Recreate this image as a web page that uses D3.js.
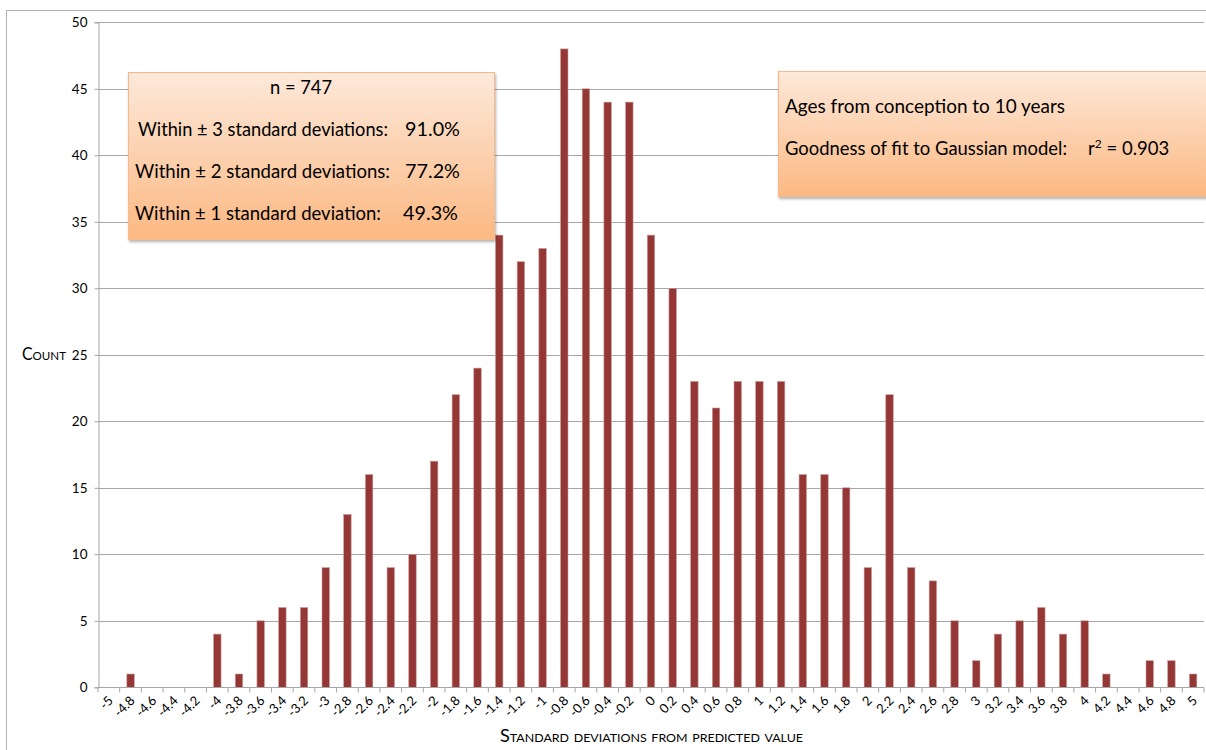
<!DOCTYPE html>
<html><head><meta charset="utf-8">
<script src="https://cdn.jsdelivr.net/npm/d3@7"></script>
<style>
body{margin:0;background:#fff;}
text{font-family:Lato,"Open Sans",sans-serif;}
</style></head>
<body><svg id="c" width="1206" height="750"></svg>
<script>
const categories = ["-5","-4.8","-4.6","-4.4","-4.2","-4","-3.8","-3.6","-3.4","-3.2","-3","-2.8","-2.6","-2.4","-2.2","-2","-1.8","-1.6","-1.4","-1.2","-1","-0.8","-0.6","-0.4","-0.2","0","0.2","0.4","0.6","0.8","1","1.2","1.4","1.6","1.8","2","2.2","2.4","2.6","2.8","3","3.2","3.4","3.6","3.8","4","4.2","4.4","4.6","4.8","5"];
const counts = [0,1,0,0,0,4,1,5,6,6,9,13,16,9,10,17,22,24,34,32,33,48,45,44,44,34,30,23,21,23,23,23,16,16,15,9,22,9,8,5,2,4,5,6,4,5,1,0,2,2,1];
const yTicks = [0,5,10,15,20,25,30,35,40,45,50];
const leftBoxLabels = ["Within ± 3 standard deviations:","Within ± 2 standard deviations:","Within ± 1 standard deviation:"];
const leftBoxValues = ["91.0%","77.2%","49.3%"];
const rightBoxLines = ["Ages from conception to 10 years","Goodness of fit to Gaussian model:"];

const svg = d3.select("#c");
const L=98, R=1204, T=22.3, B=687.3;
const x = d3.scaleBand().domain(categories).range([L,R]).paddingInner(0.655).paddingOuter(0.33);
const xc = d3.scaleBand().domain(categories).range([L,R]);
const y = d3.scaleLinear().domain([0,50]).range([B,T]);

// outer chart border
svg.append("rect").attr("x",6.5).attr("y",10.5).attr("width",1210).attr("height",760)
  .attr("fill","none").attr("stroke","#b3b3b3").attr("stroke-width",1);

// gridlines
svg.append("g").selectAll("line").data(yTicks.filter(d=>d>0)).join("line")
  .attr("x1",L).attr("x2",R).attr("y1",d=>Math.round(y(d))+0.5).attr("y2",d=>Math.round(y(d))+0.5)
  .attr("stroke","#a6a6a6").attr("stroke-width",1);

// y axis
const ya = svg.append("g").attr("transform",`translate(${L+0.5},0)`)
  .call(d3.axisLeft(y).tickValues(yTicks).tickSize(4).tickPadding(7));
ya.select(".domain").attr("stroke","#a6a6a6");
ya.selectAll(".tick line").attr("stroke","#a6a6a6");
ya.selectAll(".tick text").attr("font-size",13.5).attr("fill","#000").attr("font-family","Lato,sans-serif");

// bars
svg.append("g").selectAll("rect").data(counts).join("rect")
  .attr("x",(d,i)=>x(categories[i])).attr("width",x.bandwidth())
  .attr("y",d=>y(d)).attr("height",d=>B-y(d))
  .attr("fill","#953735").attr("stroke","#c9a09f").attr("stroke-width",0.6);

// x axis
const xa = svg.append("g").attr("transform",`translate(0,${Math.round(B)+0.5})`);
xa.append("line").attr("x1",L).attr("x2",R).attr("stroke","#a6a6a6");
const bounds = categories.map(c=>xc(c)).concat([R]);
xa.selectAll("line.tk").data(bounds).join("line").attr("class","tk")
  .attr("x1",d=>d).attr("x2",d=>d).attr("y1",0).attr("y2",5).attr("stroke","#a6a6a6");
xa.selectAll("text").data(categories).join("text")
  .attr("transform",c=>`translate(${xc(c)+xc.bandwidth()/2+5},14) rotate(-45)`)
  .attr("text-anchor","end").attr("font-size",13).attr("fill","#000").text(c=>c);

// axis titles
svg.append("text").attr("x",22).attr("y",360).attr("font-size",16.5)
  .attr("textLength",44).attr("lengthAdjust","spacingAndGlyphs")
  .style("font-variant","small-caps").attr("fill","#000").text("Count");
svg.append("text").attr("x",500).attr("y",742).attr("font-size",17.5)
  .attr("textLength",303).attr("lengthAdjust","spacingAndGlyphs")
  .style("font-variant","small-caps").attr("fill","#000").text("Standard deviations from predicted value");

// boxes
const defs = svg.append("defs");
const g = defs.append("linearGradient").attr("id","og").attr("x1",0).attr("y1",0).attr("x2",0).attr("y2",1);
g.append("stop").attr("offset","0%").attr("stop-color","#fde9da");
g.append("stop").attr("offset","100%").attr("stop-color","#fbb882");
const f = defs.append("filter").attr("id","sh").attr("x","-5%").attr("y","-5%").attr("width","115%").attr("height","120%");
f.append("feDropShadow").attr("dx",1).attr("dy",2).attr("stdDeviation",1.5).attr("flood-color","#000").attr("flood-opacity",0.3);

svg.append("rect").attr("x",128.5).attr("y",72.5).attr("width",366).attr("height",167)
  .attr("fill","url(#og)").attr("stroke","#f8b98a").attr("filter","url(#sh)");
svg.append("text").attr("x",270).attr("y",94).attr("font-size",18.5)
  .attr("textLength",62).attr("lengthAdjust","spacingAndGlyphs").text("n = 747");
const lblX=[138,135,135], lblW=[250,255,246], valX=[405,405,403];
svg.selectAll("text.lb").data(leftBoxLabels).join("text").attr("class","lb")
  .attr("x",(d,i)=>lblX[i]).attr("y",(d,i)=>136+i*42).attr("font-size",18.5)
  .attr("textLength",(d,i)=>lblW[i]).attr("lengthAdjust","spacingAndGlyphs").text(d=>d);
svg.selectAll("text.lv").data(leftBoxValues).join("text").attr("class","lv")
  .attr("x",(d,i)=>valX[i]).attr("y",(d,i)=>136+i*42).attr("font-size",18.5)
  .attr("textLength",55).attr("lengthAdjust","spacingAndGlyphs").text(d=>d);

svg.append("rect").attr("x",778.5).attr("y",71.5).attr("width",440).attr("height",125)
  .attr("fill","url(#og)").attr("stroke","#f8b98a").attr("filter","url(#sh)");
svg.selectAll("text.rb").data(rightBoxLines).join("text").attr("class","rb")
  .attr("x",785).attr("y",(d,i)=>113+i*42).attr("font-size",18.5)
  .attr("textLength",(d,i)=>i===0?280:282).attr("lengthAdjust","spacingAndGlyphs").text(d=>d);
const r2 = svg.append("text").attr("x",1088).attr("y",155).attr("font-size",18.5);
r2.append("tspan").text("r");
r2.append("tspan").attr("dy",-7).attr("font-size",12).text("2");
r2.append("tspan").attr("dy",7).text(" = 0.903");
</script></body></html>
